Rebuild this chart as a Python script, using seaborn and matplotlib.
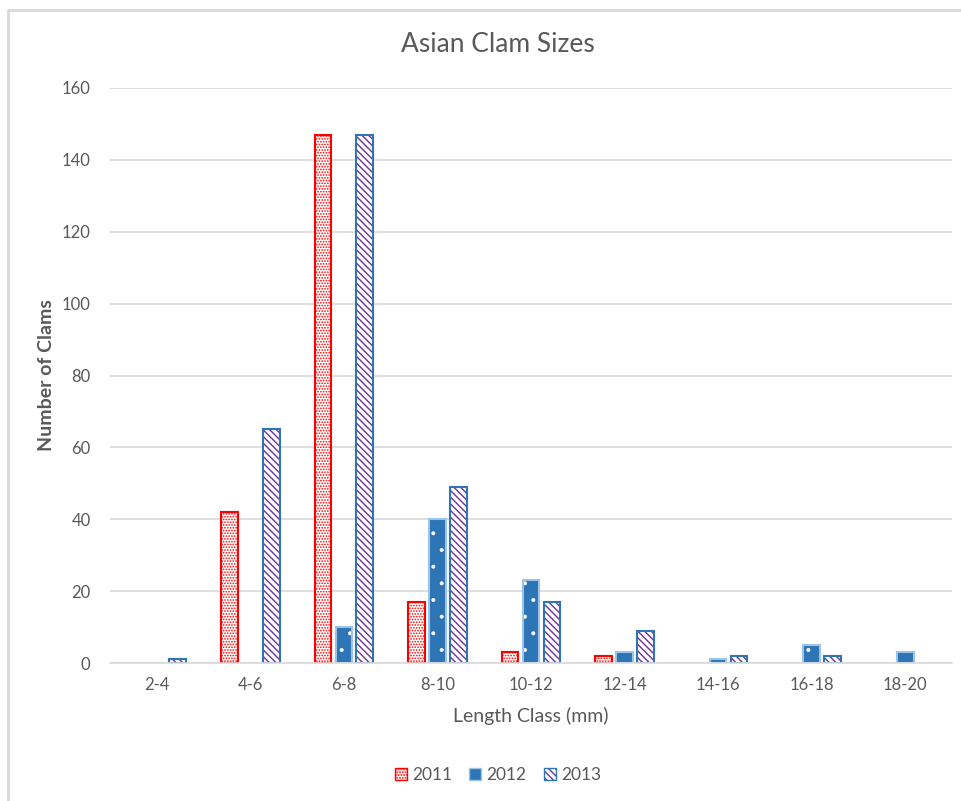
import matplotlib
matplotlib.use("Agg")
import matplotlib.pyplot as plt
import matplotlib.colors as mcolors
from matplotlib.patches import Patch
from matplotlib.lines import Line2D
import seaborn as sns
import pandas as pd

categories = ["2-4", "4-6", "6-8", "8-10", "10-12", "12-14", "14-16", "16-18", "18-20"]
years = ["2011", "2012", "2013"]
vals_2011 = [0, 42, 147, 17, 3, 2, 0, 0, 0]
vals_2012 = [0, 0, 10, 40, 23, 3, 1, 5, 3]
vals_2013 = [1, 65, 147, 49, 17, 9, 2, 2, 0]

rows = []
for yr, vals in zip(years, [vals_2011, vals_2012, vals_2013]):
    for c, v in zip(categories, vals):
        rows.append({"Length": c, "Year": yr, "Count": v})
df = pd.DataFrame(rows)

sns.set_theme(style="white")
plt.rcParams['font.family'] = ['Lato', 'DejaVu Sans']
plt.rcParams['hatch.linewidth'] = 1.0
grey = "#595959"
RED = "#FF0000"
BLUE = "#2E75B6"
PURPLE = "#7030A0"

fig = plt.figure(figsize=(9.61, 8.01), dpi=100)
ax = fig.add_axes([110/961, 1-663/801, (952-110)/961, (663-88)/801])

sns.barplot(data=df, x="Length", y="Count", hue="Year", order=categories,
            hue_order=years, palette=["white", BLUE, "white"],
            width=0.67, gap=0.2, ax=ax, legend=False, saturation=1)

styles = {
    "2011": dict(face="white", edge=RED, hatch="......", hcol=RED, hlw=0.8),
    "2012": dict(face=BLUE, edge="#9DC3E6", hatch=".", hcol="white", hlw=0.4),
    "2013": dict(face="white", edge=BLUE, hatch="\\\\\\\\\\", hcol=PURPLE, hlw=1.0),
}
for cont, yr in zip(ax.containers, years):
    st = styles[yr]
    for p in cont.patches:
        p.set_facecolor(st["face"])
        p.set_edgecolor(st["edge"])
        p.set_linewidth(1.5)
        p.set_hatch(st["hatch"])
        p._hatch_color = mcolors.to_rgba(st["hcol"])
        try:
            p.set_hatch_linewidth(st["hlw"])
        except AttributeError:
            p._hatch_linewidth = st["hlw"]
        if p.get_height() == 0:
            p.set_visible(False)

ax.set_ylim(0, 160)
ax.set_yticks(range(0, 161, 20))
ax.set_xlim(-0.5, len(categories) - 0.5)
ax.yaxis.grid(True, color="#D9D9D9", linewidth=1.2)
ax.set_axisbelow(True)
for s in ["top", "right", "left"]:
    ax.spines[s].set_visible(False)
ax.spines["bottom"].set_color("#D9D9D9")
ax.spines["bottom"].set_linewidth(1.2)
ax.tick_params(axis="both", length=0, colors=grey, labelsize=12)
ax.tick_params(axis="y", pad=14)
ax.tick_params(axis="x", pad=10)

ax.set_xlabel("Length Class (mm)", color=grey, fontsize=14, labelpad=10)
ax.set_ylabel("")
fig.text(47/961, 1-375/801, "Number of Clams", rotation=90, color=grey,
         fontsize=14, fontweight="bold", ha="center", va="center")
fig.text(498/961, 1-45/801, "Asian Clam Sizes", color=grey, fontsize=19,
         ha="center", va="center")

handles = []
for yr in years:
    st = styles[yr]
    h = Patch(facecolor=st["face"], edgecolor=st["edge"], hatch=st["hatch"], label=yr)
    handles.append(h)
leg = fig.legend(handles=handles, loc="center", bbox_to_anchor=(498/961, 1-775/801),
                 ncol=3, frameon=False, fontsize=12.5, handlelength=0.7,
                 handleheight=0.7, handletextpad=0.3, columnspacing=1.0)
for t in leg.get_texts():
    t.set_color(grey)
for h, yr in zip(leg.legend_handles, years):
    h._hatch_color = mcolors.to_rgba(styles[yr]["hcol"])

# chart-area border (top and left visible)
fig.add_artist(Line2D([8/961, 8/961], [0, 1-10/801], transform=fig.transFigure,
                      color="#D9D9D9", linewidth=2))
fig.add_artist(Line2D([8/961, 1], [1-10/801, 1-10/801], transform=fig.transFigure,
                      color="#D9D9D9", linewidth=2))

fig.savefig("out.png", dpi=100, facecolor="white")
